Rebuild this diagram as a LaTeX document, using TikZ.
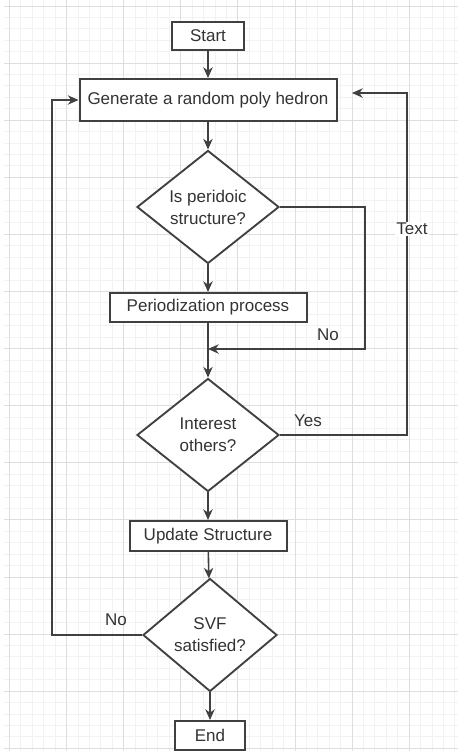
\documentclass[tikz,border=0pt]{standalone}
\usepackage{fontspec}
\setmainfont{Liberation Sans}
\usetikzlibrary{shapes.geometric}
\usetikzlibrary{arrows.meta}

\begin{document}
\begin{tikzpicture}[x=0.75pt,y=0.75pt,yscale=-1,xscale=1,
  font=\fontsize{12.75}{16.5}\selectfont,
  box/.style={draw=black!75,line width=1.5pt,fill=white,text=black!80,inner sep=0pt},
  decision/.style={diamond,draw=black!75,line width=1.4pt,fill=white,text=black!80,inner sep=0pt,align=center,minimum width=106.5pt,minimum height=84.75pt},
  flow/.style={draw=black!75,line width=1.2pt,-{Stealth[length=8pt,width=7pt,inset=2.5pt]}},
  lbl/.style={text=black!80,inner sep=1pt}]
%set diagram size 458 x 751
\useasboundingbox (0,0) rectangle (458,751);
\fill[white] (0,0) rectangle (458,751);

%Shape: Grid
\foreach \k in {0,...,39} \draw[black!5,line width=0.75pt] ({9.5+11.42*\k},0) -- ({9.5+11.42*\k},751);
\foreach \k in {0,...,65} \draw[black!5,line width=0.75pt] (4,{6+11.42*\k}) -- (458,{6+11.42*\k});
\foreach \k in {0,...,7} \draw[black!13,line width=0.75pt] ({9.5+57.1*\k},0) -- ({9.5+57.1*\k},751);
\foreach \k in {0,...,13} \draw[black!13,line width=0.75pt] (4,{6+57.1*\k}) -- (458,{6+57.1*\k});

%Shape: Boxes and decisions
\node[box,minimum width=54pt,minimum height=21pt] (start) at (208,36) {Start};
\node[box,minimum width=192.75pt,minimum height=31.5pt] (gen) at (208,100) {Generate a random poly hedron};
\node[decision] (periodic) at (208,207) {Is peridoic\\structure?};
\node[box,minimum width=147.75pt,minimum height=21.75pt] (period) at (208,307.5) {Periodization process};
\node[decision] (interest) at (208,435) {Interest\\others?};
\node[box,minimum width=117.75pt,minimum height=22.5pt] (update) at (208,536) {Update Structure};
\node[decision,minimum width=100.5pt] (svf) at (210,635) {SVF\\satisfied?};
\node[box,minimum width=52.5pt,minimum height=21.75pt] (end) at (210,735.5) {End};

%Straight Lines
\draw[flow] (start) -- (gen);
\draw[flow] (gen) -- (periodic);
\draw[flow] (periodic) -- (period);
\draw[flow] (period) -- (interest);
\draw[flow] (interest) -- (update);
\draw[flow] (update) -- (svf);
\draw[flow] (svf) -- (end);

%Loop Lines
\coordinate (noturn) at (365,349);
\coordinate (nojoin) at (208,349);
\draw[flow] (periodic.east) -| (noturn) -- (nojoin);
\coordinate (yesturn) at (407,93);
\coordinate (genin) at (352,93);
\draw[flow] (interest.east) -| (yesturn) -- (genin);
\coordinate (backturn) at (52,100);
\draw[flow] (svf.west) -| (backturn) -- (gen.west);

% Text Node
\node[lbl] (nolbl) at (328,335) {No};
% Text Node
\node[lbl] (yeslbl) at (308,421) {Yes};
% Text Node
\node[lbl,fill=white] (textlbl) at (412,229) {Text};
% Text Node
\node[lbl] (backlbl) at (116,620) {No};

\end{tikzpicture}
\end{document}
